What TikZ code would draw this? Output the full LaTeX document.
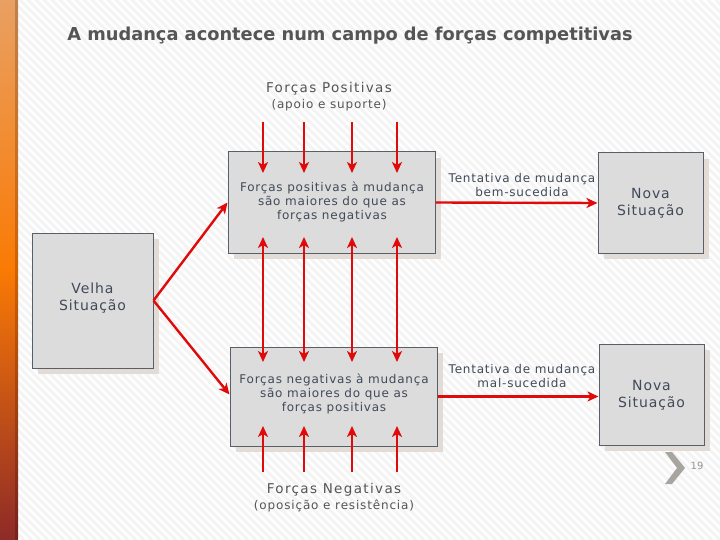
\documentclass[tikz,border=0pt]{standalone}
\usepackage{fontspec}
\setmainfont{DejaVu Sans}
\newfontfamily\boxfont[LetterSpace=6.5]{DejaVu Sans}
\newfontfamily\sitfont[LetterSpace=6.5]{DejaVu Sans}
\newfontfamily\forcefont[LetterSpace=10]{DejaVu Sans}
\newfontfamily\forcesubfont[LetterSpace=7]{DejaVu Sans}
\usetikzlibrary{arrows.meta,shadows}
\definecolor{redarrow}{HTML}{E00A0A}
\definecolor{boxfill}{HTML}{DCDCDC}
\definecolor{boxline}{HTML}{575F69}
\definecolor{boxtext}{HTML}{414A58}
\definecolor{shadowcol}{HTML}{E2DBD6}
\definecolor{titlecol}{HTML}{555555}
\definecolor{stripecol}{HTML}{F4F4F4}
\definecolor{chevcol}{HTML}{A8A49F}
\definecolor{barTop}{HTML}{E9A062}
\definecolor{barMid}{HTML}{FA7A05}
\definecolor{barBot}{HTML}{8E2A28}
\begin{document}
\begin{tikzpicture}[x=1pt,y=-1pt,
  box/.style={draw=boxline, fill=boxfill, line width=1pt, inner sep=0pt,
    general shadow={shadow xshift=6pt, shadow yshift=-6pt, fill=shadowcol}},
  boxlabel/.style={text=boxtext, align=center, font=\boxfont\fontsize{12}{14}\selectfont, inner sep=0pt},
  sitlabel/.style={text=boxtext, align=center, font=\sitfont\fontsize{14}{16.5}\selectfont, inner sep=0pt},
  forcelabel/.style={text=titlecol, align=center, inner sep=0pt, font=\forcefont\fontsize{13.5}{15.5}\selectfont},
  force/.style={draw=redarrow, line width=2.4pt, -{Stealth[length=11pt,width=10pt,inset=3pt]}},
  dforce/.style={draw=redarrow, line width=2.4pt, {Stealth[length=11pt,width=10pt,inset=3pt]}-{Stealth[length=11pt,width=10pt,inset=3pt]}}
]
\useasboundingbox (0,0) rectangle (720,540);
\fill[white] (0,0) rectangle (720,540);
\begin{scope}
\clip (18,0) rectangle (720,540);
\foreach \i in {-540,-532,...,720} {
  \draw[stripecol, line width=3pt] (\i,0) -- (\i+540,540);
}
\end{scope}
% left bar
\shade[top color=barTop, bottom color=barBot, middle color=barMid] (0,0) rectangle (18,540);
\fill[black, opacity=0.18] (15,0) rectangle (18,540);

% title
\node[text=titlecol, font=\bfseries\fontsize{17.8}{20}\selectfont] (title) at (350,36) {A mudança acontece num campo de forças competitivas};

% force labels
\node[forcelabel] (poslab) at (329,96.5) {Forças Positivas\\{\forcesubfont\fontsize{12}{14}\selectfont(apoio e suporte)}};
\node[forcelabel] (neglab) at (334,497.5) {Forças Negativas\\{\forcesubfont\fontsize{12}{14}\selectfont(oposição e resistência)}};

% boxes
\node[box, minimum width=207pt, minimum height=101pt] (pos) at (331.5,202.5) {};
\node[boxlabel] (postext) at (332,202) {Forças positivas à mudança\\são maiores do que as\\forças negativas};
\node[box, minimum width=207pt, minimum height=99pt] (neg) at (333.5,396.5) {};
\node[boxlabel] (negtext) at (334,394) {Forças negativas à mudança\\são maiores do que as\\forças positivas};
\node[box, minimum width=121pt, minimum height=135pt] (old) at (92.5,300.5) {};
\node[sitlabel] (oldtext) at (92.5,298) {Velha\\Situação};
\node[box, minimum width=105pt, minimum height=100pt] (new1) at (650.5,203) {};
\node[sitlabel] (new1text) at (650.5,203) {Nova\\Situação};
\node[box, minimum width=105pt, minimum height=101pt] (new2) at (651.5,394.5) {};
\node[sitlabel] (new2text) at (651.5,395) {Nova\\Situação};

% coordinates for force arrows
\foreach \n/\x in {1/263,2/304,3/352,4/397} {
  \coordinate (ts\n) at (\x,122);
  \coordinate (te\n) at (\x,173);
  \coordinate (ms\n) at (\x,237);
  \coordinate (me\n) at (\x,362);
  \coordinate (bs\n) at (\x,472);
  \coordinate (be\n) at (\x,426);
}
\foreach \n in {1,2,3,4} {
  \draw[force] (ts\n) -- (te\n);
  \draw[dforce] (ms\n) -- (me\n);
  \draw[force] (bs\n) -- (be\n);
}

% old -> boxes
\draw[force] (old.east) -- (pos.west);
\draw[force] (old.east) -- ([yshift=2pt]neg.west);
% boxes -> new
\draw[force] (pos.east) -- (new1.west);
\draw[force] (neg.east) -- (new2.west |- neg.east);
\node[boxlabel] (l1) at (522,185) {Tentativa de mudança\\bem-sucedida};
\node[boxlabel] (l2) at (522,376) {Tentativa de mudança\\mal-sucedida};

% page number
\fill[chevcol] (665,452) -- (672,452) -- (685,468) -- (672,484) -- (665,484) -- (677,468) -- cycle;
\node[text=chevcol!90!black, font=\fontsize{10}{12}\selectfont] (pg) at (697,466) {19};
\end{tikzpicture}
\end{document}
